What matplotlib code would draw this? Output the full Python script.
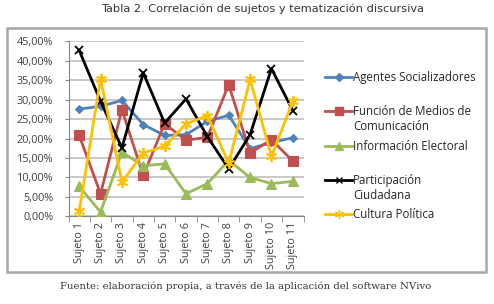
import numpy as np
import matplotlib
matplotlib.use("Agg")
import matplotlib.pyplot as plt
from matplotlib.lines import Line2D
from matplotlib.patches import Rectangle
from matplotlib.ticker import FuncFormatter, MultipleLocator

sujetos = ["Sujeto %d" % i for i in range(1, 12)]

agentes = [27.6, 28.3, 29.8, 23.6, 20.8, 21.0, 24.4, 26.0, 17.4, 19.0, 20.2]
medios = [20.8, 5.8, 27.4, 10.5, 23.8, 19.6, 20.3, 33.9, 16.3, 19.7, 14.2]
electoral = [7.7, 1.1, 16.5, 13.0, 13.5, 5.8, 8.4, 14.4, 10.0, 8.4, 9.0]
participacion = [42.7, 29.6, 17.6, 36.9, 24.0, 30.2, 20.5, 12.2, 21.0, 38.0, 27.2]
cultura = [1.3, 35.4, 8.8, 16.3, 18.0, 23.8, 25.9, 13.7, 35.2, 15.4, 29.6]

series = [
    ("Agentes Socializadores", agentes, "#4F81BD", "D", 4.5),
    ("Función de Medios de\nComunicación", medios, "#C0504D", "s", 7),
    ("Información Electoral", electoral, "#9BBB59", "^", 6.5),
    ("Participación\nCiudadana", participacion, "#000000", "x", 6),
    ("Cultura Política", cultura, "#FFC000", (6, 2, 0), 8),
]

W, H = 494, 304
fig = plt.figure(figsize=(W / 100, H / 100), dpi=100)

# outer chart frame
fig.add_artist(Rectangle((7 / W, 1 - 272 / H), 479 / W, 244 / H,
                         transform=fig.transFigure, fill=False,
                         edgecolor="#A6A6A6", lw=1.8))

ax = fig.add_axes([68.5 / W, 1 - 216.3 / H, 235 / W, 174.9 / H])
x = np.arange(1, 12)
for label, vals, color, marker, ms in series:
    ax.plot(x, np.array(vals) / 100, color=color, lw=2, marker=marker,
            ms=ms, mew=1.3 if marker in ("x", (6, 2, 0)) else 0.8,
            mec=color, zorder=3)

ax.set_xlim(0.5, 11.5)
ax.set_ylim(0, 0.45)
ax.yaxis.set_major_locator(MultipleLocator(0.05))
ax.yaxis.set_major_formatter(FuncFormatter(lambda v, p: ("%.2f%%" % (v * 100)).replace(".", ",")))
ax.grid(axis="y", color="#BFBFBF", lw=1.2)
ax.set_axisbelow(True)
for s in ("top", "right"):
    ax.spines[s].set_visible(False)
ax.spines["left"].set_color("#868686")
ax.spines["bottom"].set_color("#868686")
ax.set_xticks(x)
ax.set_xticklabels(sujetos, rotation=90, fontsize=7.8, color="#404040",
                   family="Open Sans")
ax.set_xticks(np.arange(0.5, 12, 1), minor=True)
ax.tick_params(axis="x", which="major", length=0, pad=4)
ax.tick_params(axis="x", which="minor", length=4, color="#868686")
ax.tick_params(axis="y", length=3, color="#868686", labelsize=7.8,
               labelcolor="#404040", pad=8)
for t in ax.get_yticklabels():
    t.set_family("Open Sans")

# legend
ys = [77, 111, 146, 180, 214]
for (label, vals, color, marker, ms), y in zip(series, ys):
    yf = 1 - y / H
    fig.add_artist(Line2D([325 / W, 352 / W], [yf, yf], color=color, lw=2,
                          transform=fig.transFigure))
    fig.add_artist(Line2D([338.5 / W], [yf], color=color, marker=marker,
                          ms=ms * 0.8, mec=color, mew=1,
                          transform=fig.transFigure))
    fig.text(353 / W, yf + 6 / H, label, fontsize=8.3, color="#262626",
             family="Open Sans", va="top", ha="left",
             transform=fig.transFigure, linespacing=1.2)

fig.text(263 / W, 1 - 9 / H, "Tabla 2. Correlación de sujetos y tematización discursiva",
         ha="center", va="center", fontsize=8.2, color="#333333", family="DejaVu Sans")
fig.text(246 / W, 1 - 286 / H, "Fuente: elaboración propia, a través de la aplicación del software NVivo",
         ha="center", va="center", fontsize=7.3, color="#333333", family="DejaVu Serif")

fig.savefig("out.png", dpi=100)
